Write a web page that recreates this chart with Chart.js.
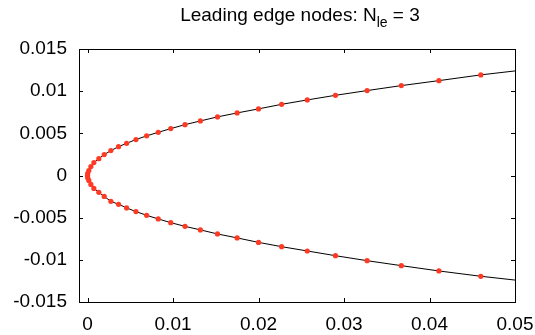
<!DOCTYPE html>
<html>
<head>
<meta charset="utf-8">
<script src="https://cdn.jsdelivr.net/npm/chart.js@4.4.1/dist/chart.umd.min.js"></script>
<style>
  html, body { margin: 0; padding: 0; background: #fff; }
  #wrap { position: relative; width: 535px; height: 335px; }
  #title {
    position: absolute; left: 0; top: 4px; width: 600px; text-align: center;
    font-family: "Liberation Sans", Arial, sans-serif; font-size: 19px; color: #000; line-height: 22px;
  }
  #title sub { font-size: 14px; vertical-align: -6px; line-height: 0; }
</style>
</head>
<body>
<div id="wrap">
  <canvas id="chart" width="535" height="335"></canvas>
  <div id="title">Leading edge nodes: N<sub>le</sub> = 3</div>
</div>
<script>
// --- data ---
const xTicks = [0, 0.01, 0.02, 0.03, 0.04, 0.05];
const yTicks = [-0.015, -0.01, -0.005, 0, 0.005, 0.01, 0.015];

const noseX = [0];
const noseY = [0];
const upperX = [0.00002, 0.00015, 0.00039, 0.00074, 0.00132, 0.00195, 0.00273, 0.00363, 0.00457, 0.00566, 0.00691, 0.00827,
                0.00973, 0.0114, 0.0132, 0.0152, 0.0175, 0.0200, 0.0227, 0.0257, 0.0290, 0.0327, 0.0367, 0.0411, 0.0460];
const upperY = [0.00026, 0.00058, 0.00106, 0.00153, 0.00200, 0.00248, 0.00295, 0.00342, 0.00382, 0.00426, 0.00470, 0.00512,
                0.00556, 0.00603, 0.00647, 0.00695, 0.00742, 0.00790, 0.00844, 0.00896, 0.00951, 0.01007, 0.01066, 0.01125, 0.01193];
const lowerX = [0.00002, 0.00015, 0.00039, 0.00074, 0.00132, 0.00195, 0.00273, 0.00363, 0.00457, 0.00566, 0.00691, 0.00827,
                0.00973, 0.0114, 0.0132, 0.0152, 0.0175, 0.0200, 0.0227, 0.0257, 0.0290, 0.0327, 0.0367, 0.0411, 0.0460];
const lowerY = [-0.00026, -0.00058, -0.00106, -0.00153, -0.00200, -0.00248, -0.00306, -0.00342, -0.00384, -0.00428, -0.00472, -0.00515,
                -0.00559, -0.00603, -0.00645, -0.00693, -0.00740, -0.00793, -0.00844, -0.00895, -0.00951, -0.01010, -0.01069, -0.01132, -0.01195];
// surface curve continues past the last node to the frame edge
const endX = [0.05];
const endUpperY = [0.0124];
const endLowerY = [-0.0124];

const pts = (xs, ys) => xs.map((x, i) => ({ x: x, y: ys[i] }));

const nodePoints = [...pts(lowerX, lowerY).reverse(), ...pts(noseX, noseY), ...pts(upperX, upperY)];
const curvePoints = [...pts(endX, endLowerY), ...nodePoints, ...pts(endX, endUpperY)];

// frame plus gnuplot-style inward ticks on all four sides
const framePlugin = {
  id: 'frame',
  afterDatasetsDraw(chart) {
    const { ctx, chartArea: a, scales } = chart;
    const len = 4;
    ctx.save();
    ctx.strokeStyle = '#000';
    ctx.lineWidth = 1;
    ctx.beginPath();
    xTicks.forEach(v => {
      const px = Math.round(scales.x.getPixelForValue(v)) + 0.5;
      ctx.moveTo(px, a.bottom); ctx.lineTo(px, a.bottom - len);
      ctx.moveTo(px, a.top); ctx.lineTo(px, a.top + len);
    });
    yTicks.forEach(v => {
      const py = Math.round(scales.y.getPixelForValue(v)) + 0.5;
      ctx.moveTo(a.left, py); ctx.lineTo(a.left + len, py);
      ctx.moveTo(a.right, py); ctx.lineTo(a.right - len, py);
    });
    ctx.stroke();
    ctx.strokeRect(Math.round(a.left) + 0.5, Math.round(a.top) + 0.5,
                   Math.round(a.right - a.left), Math.round(a.bottom - a.top));
    ctx.restore();
  }
};

const tickFont = { family: "'Liberation Sans', Arial, sans-serif", size: 19 };

new Chart(document.getElementById('chart').getContext('2d'), {
  type: 'scatter',
  data: {
    datasets: [
      { label: 'nodes', data: nodePoints, showLine: false, pointRadius: 2.6, pointBorderWidth: 0,
        pointBackgroundColor: '#ff3a24', pointBorderColor: '#ff3a24', order: 0 },
      { label: 'surface', data: curvePoints, showLine: true, pointRadius: 0, borderColor: '#000',
        borderWidth: 1, tension: 0, order: 1 }
    ]
  },
  options: {
    responsive: false,
    animation: false,
    layout: { padding: { top: 49, right: 20, left: 0, bottom: 0 } },
    plugins: { legend: { display: false }, tooltip: { enabled: false } },
    scales: {
      x: {
        type: 'linear', min: -0.001, max: 0.05,
        afterBuildTicks: s => { s.ticks = xTicks.map(v => ({ value: v })); },
        afterFit: s => { s.height = 33; s.paddingLeft = 0; s.paddingRight = 0; },
        grid: { display: false, drawTicks: false },
        border: { display: false },
        ticks: { color: '#000', font: tickFont, padding: 11, maxRotation: 0, callback: v => String(v) }
      },
      y: {
        type: 'linear', min: -0.015, max: 0.015,
        afterBuildTicks: s => { s.ticks = yTicks.map(v => ({ value: v })); },
        afterFit: s => { s.width = 79; s.paddingTop = 0; s.paddingBottom = 0; },
        grid: { display: false, drawTicks: false },
        border: { display: false },
        ticks: { color: '#000', font: tickFont, padding: 12, callback: v => String(v) }
      }
    }
  },
  plugins: [framePlugin]
});
</script>
</body>
</html>
